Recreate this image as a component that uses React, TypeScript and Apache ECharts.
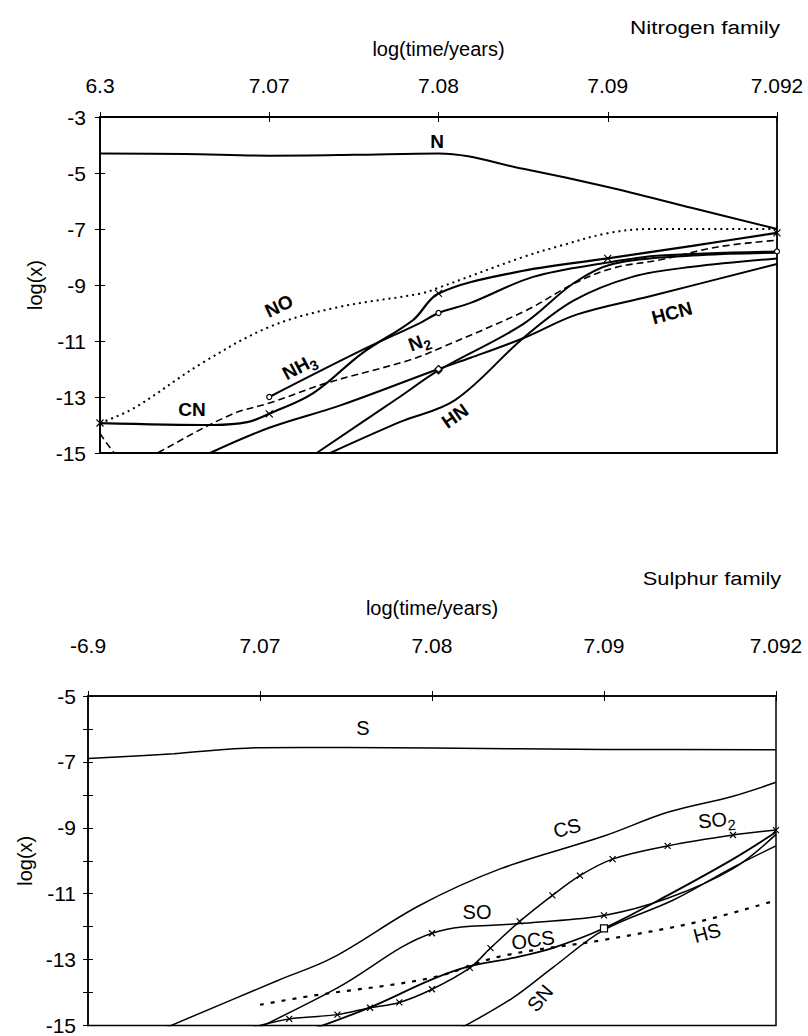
import React, { useEffect, useRef } from 'react';
import * as echarts from 'echarts';

const FONT = '"Liberation Sans", Arial, sans-serif';

// x positions: 0..4 correspond to the tick labels below
const TOP_X_LABELS = ['6.3', '7.07', '7.08', '7.09', '7.092'];
const BOTTOM_X_LABELS = ['-6.9', '7.07', '7.08', '7.09', '7.092'];
const TOP_Y_LABELS = [-15, -13, -11, -9, -7, -5, -3];
const BOTTOM_Y_LABELS = [-15, -13, -11, -9, -7, -5];
const BOTTOM_TICKS = [-15, -14, -13, -12, -11, -10, -9, -8, -7, -6, -5];

// ---- Nitrogen family ----
const N_DATA = [[0, -4.3], [0.5, -4.32], [1, -4.38], [1.5, -4.35], [2, -4.3], [2.5, -4.85], [3, -5.5], [3.5, -6.25], [4, -7.0]];
const NO_DATA = [[0, -13.93], [0.2, -13.4], [0.6, -11.8], [1, -10.5], [1.4, -9.8], [1.9, -9.3], [2, -9.1], [2.5, -8.0], [2.72, -7.6], [3, -7.15], [3.25, -7.0], [4, -7.0]];
const CN_DATA = [[0, -13.93], [0.67, -14.0], [0.87, -13.9], [1, -13.6], [1.26, -12.86], [1.55, -11.43], [1.85, -10.25], [2, -9.3], [2.46, -8.54], [3, -8.05], [3.5, -7.6], [4, -7.14]];
const NH3_DATA = [[1, -13.0], [1.55, -11.32], [1.89, -10.36], [2, -10.0], [2.19, -9.64], [2.56, -8.71], [3, -8.2], [3.31, -7.95], [4, -7.8]];
const N2_DATA = [[0, -14.3], [0.2, -15.5], [0.34, -15.0], [0.77, -13.64], [1.02, -13.18], [1.34, -12.5], [1.83, -11.68], [2.03, -11.2], [2.52, -9.9], [2.8, -8.95], [3.03, -8.4], [3.31, -8.1], [3.65, -7.64], [4, -7.4]];
const HNC_DATA = [[1.28, -15.0], [1.77, -13.0], [2, -12.05], [2.5, -10.4], [2.8, -8.93], [3.03, -8.25], [3.5, -7.95], [4, -7.85]];
const HN_DATA = [[1.36, -15.0], [1.77, -13.9], [2.1, -13.1], [2.5, -10.9], [2.8, -9.55], [3.15, -8.7], [3.5, -8.35], [4, -8.05]];
const HCN_DATA = [[0.65, -15.0], [1, -14.1], [1.42, -13.3], [2, -12.0], [2.19, -11.6], [2.5, -10.9], [2.82, -10.05], [3.25, -9.4], [4, -8.25]];

// ---- Sulphur family ----
const S_DATA = [[0, -6.9], [0.5, -6.75], [1, -6.57], [1.5, -6.56], [2, -6.58], [3, -6.62], [4, -6.63]];
const CS_DATA = [[0.46, -15.05], [1.1, -13.64], [1.42, -12.95], [1.93, -11.35], [2.4, -10.24], [3, -9.25], [3.37, -8.53], [3.75, -8.04], [4, -7.62]];
const SO_DATA = [[0.98, -15.1], [1.45, -13.86], [2, -12.2], [2.53, -11.9], [3, -11.66], [3.37, -11.14], [3.75, -10.24], [4, -9.2]];
const SO2_DATA = [[0.96, -15.05], [1.17, -14.8], [1.45, -14.67], [1.64, -14.46], [1.81, -14.3], [2, -13.9], [2.22, -13.25], [2.34, -12.65], [2.51, -11.84], [2.7, -11.05], [2.86, -10.45], [3.05, -9.95], [3.37, -9.55], [3.75, -9.22], [4, -9.07]];
const OCS_DATA = [[1.31, -15.1], [1.64, -14.45], [2, -13.6], [2.22, -13.2], [2.47, -12.95], [2.7, -12.65], [3, -12.05], [3.37, -11.05], [3.75, -9.95], [4, -9.13]];
const SN_DATA = [[2.16, -15.1], [2.47, -14.16], [2.7, -13.25], [3, -12.1], [3.4, -11.2], [3.75, -10.2], [4, -9.55]];
const HS_DATA = [[1.0, -14.37], [1.3, -14.1], [2.0, -13.55], [2.4, -12.9], [3.0, -12.4], [3.55, -11.85], [4, -11.2]];

const X_PATH = 'path://M0,0L10,10M10,0L0,10';

type Marker = { at: number[] | 'all'; symbol: string; size: number };

function line(
  name: string,
  data: number[][],
  axis: number,
  width: number,
  type: any,
  marker?: Marker,
  smooth = 0.35
) {
  return {
    name,
    type: 'line',
    xAxisIndex: axis,
    yAxisIndex: axis,
    data,
    smooth,
    clip: true,
    showSymbol: !!marker,
    symbol: marker
      ? (v: number[]) => (marker.at === 'all' || (marker.at as number[]).includes(v[0]) ? marker.symbol : 'none')
      : 'none',
    symbolSize: marker ? marker.size : 0,
    itemStyle: { color: '#fff', borderColor: '#000', borderWidth: 1.2 },
    lineStyle: { color: '#000', width, type },
    emphasis: { disabled: true },
  };
}

function lbl(x: number, y: number, deg: number, main: string, sub: string | null, size: number, bold: boolean, sx = 1) {
  const font = `${bold ? 'bold ' : ''}${size}px ${FONT}`;
  const children: any[] = [
    { type: 'text', style: { text: main, x: 0, y: 0, align: sub ? 'right' : 'center', verticalAlign: 'middle', font, fill: '#000' } },
  ];
  if (sub) {
    children.push({
      type: 'text',
      style: { text: sub, x: 0, y: size * 0.3, align: 'left', verticalAlign: 'middle', font: `${bold ? 'bold ' : ''}${Math.round(size * 0.75)}px ${FONT}`, fill: '#000' },
    });
  }
  return { type: 'group', x, y, scaleX: sx, rotation: (deg * Math.PI) / 180, children };
}

function xAxes(grid: number, labels: string[], margin: number, nameGap: number) {
  return [
    {
      gridIndex: grid, type: 'value', min: 0, max: 4, interval: 1, position: 'top',
      axisLine: { show: true, lineStyle: { color: '#000', width: 1.5 } },
      axisTick: { show: true, inside: false, length: 5, lineStyle: { color: '#000' } },
      axisLabel: { formatter: (v: number) => labels[v] ?? '', margin, fontSize: 21, color: '#000', fontFamily: FONT },
      splitLine: { show: false },
      name: 'log(time/years)', nameLocation: 'middle', nameGap,
      nameTextStyle: { fontSize: 20, color: '#000', fontFamily: FONT },
    },
    {
      gridIndex: grid, type: 'value', min: 0, max: 4, interval: 1, position: 'top',
      axisLine: { show: false },
      axisTick: { show: true, inside: true, length: 5, lineStyle: { color: '#000' } },
      axisLabel: { show: false }, splitLine: { show: false },
    },
  ];
}

function yAxes(grid: number, min: number, max: number, labels: number[], ticks: number[], margin: number, nameGap: number) {
  return [
    {
      gridIndex: grid, type: 'value', min, max, position: 'left',
      axisLine: { show: true, lineStyle: { color: '#000', width: 1.5 } },
      axisTick: { show: true, inside: false, length: 5, customValues: ticks, lineStyle: { color: '#000' } },
      axisLabel: { customValues: labels, margin, fontSize: 21, color: '#000', fontFamily: FONT },
      splitLine: { show: false },
      name: 'log(x)', nameLocation: 'middle', nameGap,
      nameTextStyle: { fontSize: 20, color: '#000', fontFamily: FONT },
    },
    {
      gridIndex: grid, type: 'value', min, max, position: 'left',
      axisLine: { show: false },
      axisTick: { show: true, inside: true, length: 5, customValues: ticks, lineStyle: { color: '#000' } },
      axisLabel: { show: false }, splitLine: { show: false },
    },
  ];
}

export default function App() {
  const ref = useRef<HTMLDivElement>(null);
  useEffect(() => {
    const chart = echarts.init(ref.current!, null, { renderer: 'svg' });
    const option: any = {
      animation: false,
      backgroundColor: '#fff',
      grid: [
        { left: 100, right: 31, top: 117, height: 336, show: true, borderColor: '#000', borderWidth: 1.8, backgroundColor: 'transparent' },
        { left: 88, right: 32, top: 696, height: 332, show: true, borderColor: '#000', borderWidth: 1.5, backgroundColor: 'transparent' },
      ],
      xAxis: [...xAxes(0, TOP_X_LABELS, 21, 58), ...xAxes(1, BOTTOM_X_LABELS, 40, 78)],
      yAxis: [
        ...yAxes(0, -15, -3, TOP_Y_LABELS, TOP_Y_LABELS, 14, 50),
        ...yAxes(1, -15, -5, BOTTOM_Y_LABELS, BOTTOM_TICKS, 12, 48),
      ],
      series: [
        // nitrogen
        line('N', N_DATA, 0, 2, 'solid'),
        line('NO', NO_DATA, 0, 2, [2, 4]),
        line('CN', CN_DATA, 0, 2.2, 'solid', { at: [0, 1, 2, 3, 4], symbol: X_PATH, size: 7 }),
        line('NH3', NH3_DATA, 0, 2, 'solid', { at: [1, 2, 4], symbol: 'circle', size: 5 }),
        line('N2', N2_DATA, 0, 1.6, [7, 4]),
        line('HNC', HNC_DATA, 0, 2, 'solid', { at: [2], symbol: 'diamond', size: 7 }),
        line('HN', HN_DATA, 0, 2, 'solid'),
        line('HCN', HCN_DATA, 0, 2, 'solid', { at: [2], symbol: 'diamond', size: 7 }),
        // sulphur
        line('S', S_DATA, 2, 1.5, 'solid'),
        line('CS', CS_DATA, 2, 1.5, 'solid'),
        line('SO', SO_DATA, 2, 1.5, 'solid', { at: [2, 3], symbol: X_PATH, size: 6 }),
        line('SO2', SO2_DATA, 2, 1.5, 'solid', { at: 'all', symbol: X_PATH, size: 6 }),
        line('OCS', OCS_DATA, 2, 1.8, 'solid', { at: [3], symbol: 'rect', size: 7 }),
        line('SN', SN_DATA, 2, 1.5, 'solid'),
        line('HS', HS_DATA, 2, 2.2, [4, 7]),
      ],
      graphic: [
        lbl(705, 28, 0, 'Nitrogen family', null, 18, false, 1.25),
        lbl(712, 578, 0, 'Sulphur family', null, 19, false, 1.15),
        lbl(437, 141, 0, 'N', null, 19, true),
        lbl(279, 306, 25, 'NO', null, 19, true),
        lbl(308, 362, 28, 'NH', '3', 19, true),
        lbl(192, 409, 0, 'CN', null, 19, true),
        lbl(422, 341, 20, 'N', '2', 19, true),
        lbl(455, 416, 35, 'HN', null, 19, true),
        lbl(672, 313, 15, 'HCN', null, 19, true),
        lbl(363, 728, 0, 'S', null, 20, false),
        lbl(567, 828, 15, 'CS', null, 20, false),
        lbl(727, 819, 5, 'SO', '2', 20, false),
        lbl(477, 912, 0, 'SO', null, 20, false),
        lbl(533, 940, 8, 'OCS', null, 20, false),
        lbl(707, 933, 15, 'HS', null, 20, false),
        lbl(540, 998, 50, 'SN', null, 20, false),
      ],
    };
    chart.setOption(option);
    return () => chart.dispose();
  }, []);
  return (
    <div
      ref={ref}
      style={{ position: 'fixed', left: 0, top: 0, width: 808, height: 1036, background: '#fff' }}
    />
  );
}
